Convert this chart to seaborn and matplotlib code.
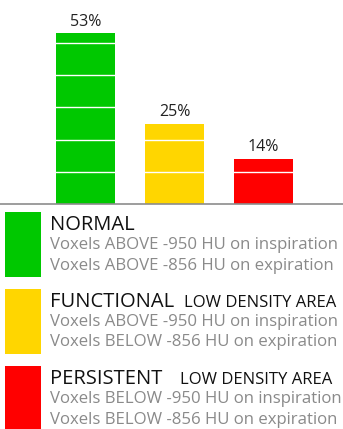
import matplotlib
matplotlib.use("Agg")
import matplotlib.pyplot as plt
from matplotlib.patches import Rectangle
import seaborn as sns
import pandas as pd

# Lung density classes and their share of voxels (%)
categories = ["NORMAL", "FUNCTIONAL", "PERSISTENT"]
shares = [53, 25, 14]
bar_colors = ["#00C800", "#FFD600", "#FF0000"]

# Legend wording
subtitles = ["", "LOW DENSITY AREA", "LOW DENSITY AREA"]
rule_lines = [
    ["Voxels ABOVE -950 HU on inspiration", "Voxels ABOVE -856 HU on expiration"],
    ["Voxels ABOVE -950 HU on inspiration", "Voxels BELOW -856 HU on expiration"],
    ["Voxels BELOW -950 HU on inspiration", "Voxels BELOW -856 HU on expiration"],
]
grid_steps = [10, 20, 30, 40, 50]

sns.set_theme(style="white")
plt.rcParams["font.family"] = ["Open Sans", "DejaVu Sans"]

W, H = 343, 429
fig = plt.figure(figsize=(W / 100, H / 100), dpi=100)


def fx(px):
    return px / W


def fy(py):
    return 1 - py / H


# bar panel: full width, baseline at y=204 px
ax = fig.add_axes([0, fy(204), 1, 204 / H])
df = pd.DataFrame({"category": categories, "share": shares})
sns.barplot(data=df, x="category", y="share", hue="category",
            palette=bar_colors, saturation=1, width=0.663,
            legend=False, linewidth=0, ax=ax)
ax.set_xlim(-0.961, 2.893)
ax.set_ylim(0, 63.4)

# white separators every 10 %
ax.set_yticks(grid_steps)
ax.yaxis.grid(True, color="white", linewidth=1.0)
ax.xaxis.grid(False)
ax.set_axisbelow(False)
ax.tick_params(length=0, labelleft=False, labelbottom=False)
ax.set_xlabel("")
ax.set_ylabel("")
for side in ["top", "left", "right"]:
    ax.spines[side].set_visible(False)
ax.spines["bottom"].set_color("#8c8c8c")
ax.spines["bottom"].set_linewidth(1.2)

for i, v in enumerate(shares):
    ax.annotate(f"{v}%", (i, v), xytext=(0, 5.5), textcoords="offset points",
                ha="center", va="baseline", fontsize=11.5, color="#222222")

# legend blocks
tops = [212, 289, 366]
sub_x = [None, 184, 180]
for i, top in enumerate(tops):
    fig.add_artist(Rectangle((fx(5), fy(top + 65)), fx(36), 65 / H,
                             transform=fig.transFigure, facecolor=bar_colors[i],
                             edgecolor="none"))
    fig.text(fx(50), fy(top + 18), categories[i], fontsize=14.5,
             color="#111111", va="baseline", ha="left")
    if subtitles[i]:
        fig.text(fx(sub_x[i]), fy(top + 18), subtitles[i], fontsize=12.0,
                 color="#111111", va="baseline", ha="left")
    for j, line in enumerate(rule_lines[i]):
        fig.text(fx(50), fy(top + 37 + 20.5 * j), line, fontsize=12.05,
                 color="#8a8a8a", va="baseline", ha="left")

fig.savefig("out.png", dpi=100)
